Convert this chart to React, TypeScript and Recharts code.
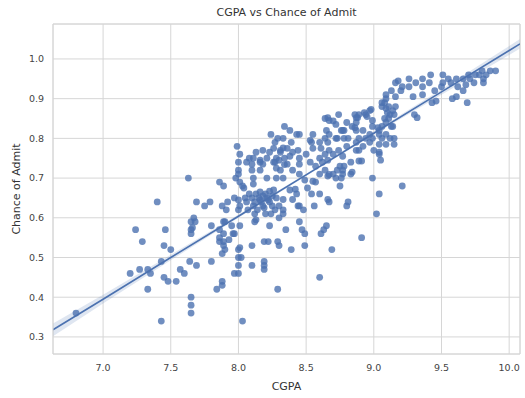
import {
  ComposedChart,
  Scatter,
  Line,
  Area,
  XAxis,
  YAxis,
  CartesianGrid,
  ReferenceLine,
} from "recharts";

// [CGPA, Chance of Admit]
const admitPoints: [number, number][] = [
  // low CGPA tail
  [6.8, 0.36], [7.2, 0.46], [7.24, 0.57], [7.27, 0.47], [7.29, 0.54], [7.33, 0.47], [7.35, 0.46], [7.33, 0.42],
  [7.4, 0.64], [7.43, 0.34], [7.43, 0.49], [7.46, 0.57], [7.45, 0.53], [7.45, 0.45], [7.5, 0.52], [7.48, 0.44],
  [7.54, 0.44], [7.57, 0.47], [7.6, 0.46], [7.65, 0.59], [7.65, 0.57], [7.65, 0.56], [7.64, 0.49], [7.65, 0.4],
  [7.65, 0.38], [7.65, 0.36], [7.67, 0.6], [7.69, 0.48], [7.69, 0.64], [7.79, 0.64], [7.8, 0.58], [7.8, 0.49],
  [7.84, 0.42], [7.86, 0.57], [7.86, 0.54], [7.86, 0.55], [7.88, 0.63], [7.88, 0.43], [7.88, 0.44], [7.88, 0.51],
  [7.89, 0.56], [7.9, 0.52], [7.9, 0.59], [7.96, 0.56], [7.97, 0.46], [8.0, 0.52], [8.0, 0.5], [8.0, 0.48],
  [8.0, 0.46], [8.01, 0.58], [8.0, 0.62], [8.03, 0.34], [8.02, 0.5], [8.1, 0.48], [8.1, 0.53], [8.12, 0.59],
  [8.19, 0.49], [8.19, 0.48], [8.19, 0.47], [8.19, 0.54], [8.23, 0.58], [8.29, 0.42], [8.29, 0.54], [8.35, 0.57],
  [8.39, 0.52], [8.45, 0.59], [8.47, 0.57], [8.49, 0.56], [8.49, 0.53], [8.6, 0.45], [8.61, 0.56], [8.63, 0.57],
  [8.65, 0.58], [8.69, 0.52], [8.91, 0.55], [9.02, 0.61], [8.8, 0.63], [8.67, 0.64], [8.56, 0.63], [8.48, 0.62],
  [8.44, 0.63], [8.33, 0.62], [8.33, 0.61], [8.12, 0.61], [8.2, 0.61], [8.07, 0.62], [8.01, 0.525], [7.89, 0.53],
  // middle band 0.6 - 0.8
  [7.86, 0.69], [7.89, 0.68], [7.63, 0.7], [8.0, 0.72], [8.0, 0.71], [8.03, 0.68], [8.1, 0.735], [8.1, 0.72],
  [8.16, 0.74], [8.16, 0.72], [8.21, 0.75], [8.27, 0.74], [8.3, 0.745], [8.28, 0.725], [8.05, 0.65], [8.0, 0.645],
  [8.1, 0.65], [8.13, 0.66], [8.16, 0.645], [8.21, 0.65], [8.23, 0.64], [8.28, 0.65], [8.25, 0.63], [8.3, 0.63],
  [8.18, 0.63], [8.11, 0.63], [8.06, 0.64], [8.01, 0.63], [7.92, 0.64], [7.91, 0.62], [7.75, 0.63], [7.68, 0.59],
  [7.66, 0.575], [7.89, 0.59], [7.95, 0.58], [7.97, 0.56], [8.13, 0.595], [8.3, 0.6], [7.93, 0.545], [7.89, 0.54],
  [8.22, 0.54], [8.3, 0.53], [8.23, 0.667], [8.27, 0.79], [8.33, 0.776], [7.99, 0.78],
  [8.15, 0.65], [8.17, 0.64], [8.2, 0.66], [8.22, 0.645], [8.25, 0.655], [8.14, 0.62], [8.27, 0.62], [8.19, 0.625],
  [8.08, 0.66], [8.24, 0.61], [8.18, 0.655], [8.12, 0.64],
  // upper right cluster
  [9.9, 0.97], [9.86, 0.97], [9.8, 0.97], [9.75, 0.96], [9.81, 0.95], [9.81, 0.94], [9.71, 0.95], [9.66, 0.95],
  [9.68, 0.935], [9.61, 0.95], [9.57, 0.94], [9.51, 0.94], [9.42, 0.96], [9.41, 0.94], [9.36, 0.95], [9.31, 0.94],
  [9.26, 0.95], [9.26, 0.93], [9.21, 0.93], [9.18, 0.945], [9.58, 0.9], [9.69, 0.89], [9.43, 0.89], [9.36, 0.91],
  [9.29, 0.905], [9.16, 0.94], [9.16, 0.905], [9.13, 0.92], [9.09, 0.91], [9.09, 0.9], [9.06, 0.89], [9.11, 0.88],
  [9.06, 0.88], [9.14, 0.87], [9.1, 0.865], [9.08, 0.85], [9.11, 0.85], [9.15, 0.86], [9.16, 0.88], [9.3, 0.86],
  [9.09, 0.84], [9.06, 0.83], [9.13, 0.83], [9.04, 0.82], [9.09, 0.81], [9.15, 0.8], [9.06, 0.8], [9.04, 0.81],
  [8.99, 0.845], [8.97, 0.87], [8.95, 0.855], [8.93, 0.865], [8.89, 0.86], [8.99, 0.83], [8.97, 0.81], [8.94, 0.8],
  [8.92, 0.82], [8.87, 0.84], [8.84, 0.83], [8.87, 0.82], [8.81, 0.8], [8.89, 0.8], [8.99, 0.8], [8.86, 0.86],
  [9.04, 0.785], [9.0, 0.77], [9.04, 0.765], [8.99, 0.7], [9.04, 0.66], [9.21, 0.68], [8.89, 0.77], [8.87, 0.79],
  [9.36, 0.93], [9.45, 0.92], [9.5, 0.93], [9.55, 0.95], [9.62, 0.93], [9.7, 0.96], [9.74, 0.94], [9.78, 0.96],
  [9.83, 0.96], [9.66, 0.92], [9.51, 0.96], [9.61, 0.905], [9.46, 0.894], [9.2, 0.92], [9.08, 0.89], [9.09, 0.875],
  [8.98, 0.873], [8.94, 0.86], [8.88, 0.852], [9.12, 0.86], [9.14, 0.83], [9.32, 0.852], [9.03, 0.827], [9.12, 0.8],
  [9.15, 0.785], [9.09, 0.785],
  // middle-upper band 0.7 - 0.86
  [8.8, 0.78], [8.76, 0.82], [8.73, 0.8], [8.72, 0.835], [8.8, 0.84], [8.83, 0.74], [8.7, 0.76], [8.77, 0.755],
  [8.75, 0.73], [8.77, 0.72], [8.7, 0.71], [8.72, 0.7], [8.83, 0.71], [8.75, 0.68], [8.64, 0.85], [8.67, 0.845],
  [8.65, 0.82], [8.64, 0.8], [8.6, 0.79], [8.66, 0.79], [8.61, 0.775], [8.67, 0.77], [8.64, 0.76], [8.6, 0.75],
  [8.66, 0.745], [8.62, 0.74], [8.57, 0.73], [8.64, 0.72], [8.6, 0.71], [8.66, 0.705], [8.57, 0.69], [8.53, 0.74],
  [8.5, 0.76], [8.55, 0.775], [8.45, 0.735], [8.44, 0.77], [8.43, 0.81], [8.38, 0.82], [8.39, 0.79], [8.33, 0.8],
  [8.29, 0.8], [8.24, 0.81], [8.36, 0.775], [8.31, 0.77], [8.4, 0.765], [8.38, 0.755], [8.45, 0.75], [8.34, 0.75],
  [8.28, 0.75], [8.23, 0.765], [8.26, 0.775], [8.36, 0.735], [8.31, 0.72], [8.26, 0.74], [8.18, 0.77], [8.13, 0.765],
  [8.11, 0.75], [8.16, 0.745], [8.08, 0.75], [8.18, 0.735], [8.06, 0.74], [8.01, 0.76], [8.0, 0.74], [7.98, 0.7],
  [8.01, 0.69], [8.11, 0.7], [8.21, 0.7], [8.28, 0.7], [8.33, 0.7], [8.4, 0.72], [8.45, 0.71], [8.49, 0.695],
  [8.54, 0.66], [8.11, 0.685], [8.04, 0.675], [8.16, 0.665], [8.26, 0.67], [8.38, 0.67], [8.43, 0.66], [8.6, 0.66],
  [7.97, 0.65], [8.34, 0.83], [8.45, 0.81], [8.53, 0.795], [8.55, 0.81], [8.86, 0.827], [8.78, 0.82], [8.7, 0.844],
  [8.78, 0.8], [8.72, 0.8], [8.97, 0.79], [8.92, 0.78], [8.87, 0.77], [8.74, 0.77], [8.78, 0.73], [8.91, 0.743],
  [9.04, 0.76], [9.05, 0.745], [8.73, 0.72], [8.77, 0.71], [8.84, 0.715], [8.66, 0.852], [8.87, 0.852], [8.54, 0.79],
  [8.67, 0.81], [8.77, 0.82], [8.89, 0.743], [8.31, 0.765], [8.34, 0.734], [8.67, 0.709], [8.76, 0.7], [8.55, 0.692],
  [8.51, 0.675], [8.42, 0.672], [8.33, 0.646], [8.4, 0.646], [8.45, 0.63], [8.66, 0.646], [8.81, 0.64], [8.74, 0.86],
];

// regression fit and its confidence band, read at these CGPA values
const fitX = [6.63, 7.0, 7.5, 8.0, 8.5, 9.0, 9.5, 10.08];
const fitY = [0.318, 0.395, 0.5, 0.604, 0.708, 0.813, 0.917, 1.038];
const ciLow = [0.302, 0.384, 0.493, 0.6, 0.705, 0.809, 0.91, 1.026];
const ciHigh = [0.334, 0.406, 0.507, 0.608, 0.711, 0.817, 0.924, 1.05];

const xTicks = [7.0, 7.5, 8.0, 8.5, 9.0, 9.5, 10.0];
const yTicks = [0.3, 0.4, 0.5, 0.6, 0.7, 0.8, 0.9, 1.0];
const xDomain = [6.63, 10.08];
const yDomain = [0.257, 1.088];

const BLUE = "#4c72b0";
const FRAME = "#d6d6d6";

const scatterData = admitPoints.map(([x, y]) => ({ x, y }));
const fitTable = fitX.map((x, i) => ({ x, fit: fitY[i], ci: [ciLow[i], ciHigh[i]] }));

const Dot = (props: any) => (
  <circle cx={props.cx} cy={props.cy} r={3.4} fill={BLUE} fillOpacity={0.8} />
);

export default function App() {
  return (
    <div
      style={{
        position: "absolute",
        left: 0,
        top: 0,
        width: 525,
        height: 398,
        background: "#fff",
        fontFamily: "'DejaVu Sans', sans-serif",
      }}
    >
      <div
        style={{
          position: "absolute",
          top: 6,
          left: 53,
          width: 467,
          textAlign: "center",
          fontSize: 11,
          lineHeight: "13px",
          color: "#333",
        }}
      >
        CGPA vs Chance of Admit
      </div>
      <ComposedChart
        width={525}
        height={398}
        data={fitTable}
        margin={{ top: 24, right: 5, bottom: 0, left: 8 }}
      >
        <CartesianGrid stroke={FRAME} strokeWidth={1} />
        <XAxis
          type="number"
          dataKey="x"
          domain={xDomain}
          ticks={xTicks}
          allowDataOverflow
          tickFormatter={(v: number) => v.toFixed(1)}
          height={44}
          tickLine={false}
          tickSize={0}
          tickMargin={10}
          axisLine={{ stroke: FRAME }}
          tick={{ fontSize: 9.5, fill: "#444" }}
          label={{ value: "CGPA", position: "insideBottom", offset: 8, fontSize: 11, fill: "#333" }}
        />
        <YAxis
          type="number"
          dataKey="y"
          domain={yDomain}
          ticks={yTicks}
          allowDataOverflow
          tickFormatter={(v: number) => v.toFixed(1)}
          width={45}
          tickLine={false}
          tickSize={0}
          tickMargin={9}
          axisLine={{ stroke: FRAME }}
          tick={{ fontSize: 9.5, fill: "#444" }}
          label={{
            value: "Chance of Admit",
            angle: -90,
            position: "insideLeft",
            offset: 8,
            fontSize: 11,
            fill: "#333",
            style: { textAnchor: "middle" },
          }}
        />
        <ReferenceLine y={yDomain[1]} stroke={FRAME} />
        <ReferenceLine x={xDomain[1]} stroke={FRAME} />
        <Scatter data={scatterData} dataKey="y" shape={Dot} isAnimationActive={false} />
        <Area
          dataKey="ci"
          type="linear"
          stroke="none"
          fill={BLUE}
          fillOpacity={0.18}
          isAnimationActive={false}
        />
        <Line
          dataKey="fit"
          type="linear"
          stroke={BLUE}
          strokeWidth={1.6}
          dot={false}
          isAnimationActive={false}
        />
      </ComposedChart>
    </div>
  );
}
